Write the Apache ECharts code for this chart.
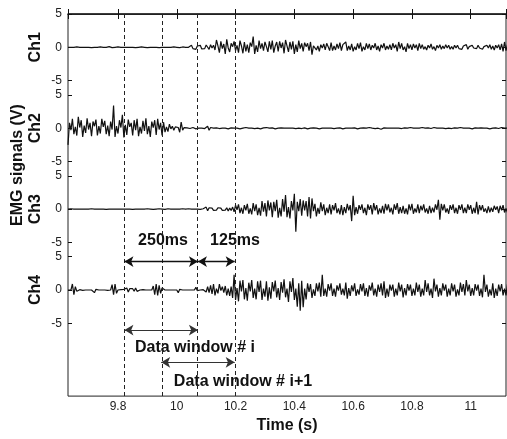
<!DOCTYPE html>
<html>
<head>
<meta charset="utf-8">
<script src="https://cdn.jsdelivr.net/npm/echarts@6/dist/echarts.min.js"></script>
<style>
html,body{margin:0;padding:0;background:#fff;}
#chart{width:507px;height:439px;}
</style>
</head>
<body>
<div id="chart"></div>
<script>
// ---- data ----
const sampleStart = 9.63;   // s
const sampleStep = 0.005;   // s
const channelNames = ['Ch1', 'Ch2', 'Ch3', 'Ch4'];
const xTicks = [9.8, 10, 10.2, 10.4, 10.6, 10.8, 11];
const yTicks = [-5, 0, 5];
const windowEdges = [9.822, 9.947, 10.072, 10.197];

const ch1 = [
 0,0.05,0,-0.05,0,0,0.05,0,0,-0.05,0,0,0,0.05,0,0,-0.05,0,0,0,
 0,0,0.05,0,0,-0.05,0,0,0.1,0,-0.05,0,0,0,0.05,0,0,-0.05,0,0,
 0,0,0,0.05,0,0,-0.05,0,0,0,0.05,0,0,0,-0.05,0,0,0.05,0,0,
 0,0,-0.05,0,0,0.05,0,0,0,-0.05,0,0,0.05,0,0,0,-0.05,0,0.05,0,
 0,0,0,0.1,0.3,-0.2,0.1,-0.3,0.2,0.1,0.3,-0.25,0.05,-0.2,0.35,0.1,-0.3,0.4,-0.1,0.3,
 -0.4,1.1,0.2,-0.8,0.9,-0.2,0.5,-1.0,1.2,-0.1,-0.7,0.6,0.1,0.9,-0.5,0.3,-0.8,1.0,0.2,-0.9,
 0.8,-0.6,0.4,-0.8,0.7,0.1,1.6,-1.0,0.3,-0.7,1.0,-0.2,0.6,-0.5,0.8,0.1,-0.7,0.9,-0.3,1.0,
 -0.8,0.2,0.8,-0.6,0.9,-0.1,0.7,-0.9,1.1,0.2,-0.7,0.8,-0.3,0.9,-1.0,0.4,-0.7,1.0,-0.2,0.6,
 -0.6,0.7,0.1,0.6,-0.5,0.8,-1.1,0.2,0.5,-0.4,0.2,-0.6,0.4,-0.1,0.5,-0.4,0.6,0.1,-0.5,0.7,
 -0.5,0.2,-0.4,0.5,-0.2,0.7,-0.5,0.4,0.1,0.8,-0.5,0.2,-0.4,0.5,-0.6,0.1,-0.4,0.6,-0.2,0.7,
 -0.6,0.1,-0.4,0.6,-0.2,0.5,-0.4,0.3,-0.1,0.6,-0.4,0.2,-0.6,0.4,-0.1,0.6,-0.4,0.2,-0.3,0.4,
 -0.4,0.6,-0.1,0.4,-0.6,0.8,-0.2,0.6,-0.4,0.1,-0.7,0.6,-0.2,0.4,-0.4,0.5,-0.1,0.4,-0.5,0.6,
 -0.2,0.4,-0.3,0.1,-0.4,0.3,-0.1,0.5,-0.3,0.1,-0.5,0.3,-0.1,0.4,-0.3,0.2,-0.2,0.4,-0.1,0.3,
 -0.3,0.1,-0.3,0.3,-0.1,0.3,-0.2,0.1,-0.3,0.2,-0.1,0.4,-0.3,0.1,-0.2,0.3,-0.1,0.2,-0.2,0.3,
 -0.1,0.2,-0.3,0.1,-0.2,0.3,-0.1,0.4,-0.3,0.2,-0.4,0.3,-0.1,0.4,-0.4,0.5,-0.6,0.8,-0.5,0.4
];

const ch2 = [
 -2.5,0.8,-0.3,1.4,-0.9,0.2,-1.1,1.7,0.1,1.2,-1.3,0.4,-0.7,1.5,-0.2,0.8,-1.2,1.0,0.3,1.3,
 -1.1,0.3,-0.8,1.4,0.2,1.1,-0.9,0.4,-1.2,1.0,-0.2,3.4,-1.3,0.3,-0.8,1.2,0.1,2.0,-1.4,0.5,
 -1.0,1.3,0.2,0.8,-1.1,1.2,-0.3,1.4,-1.2,0.2,-0.8,1.1,-0.4,1.5,-0.9,0.3,-1.3,1.0,0.1,1.2,
 -1.0,1.4,-0.2,0.8,-1.1,0.9,-0.6,0.2,-0.5,0.6,-0.1,0.3,-0.3,0.2,-0.1,0.1,-0.6,0.9,-0.3,0.1,
 0,0.05,0,-0.05,0,0.1,0,-0.1,0,0,0.05,0,0,-0.05,0,0.3,-0.3,0.1,0,0,
 0,0.05,0,-0.05,0,0,0.1,0,0,-0.1,0,0.05,0,0,-0.05,0,0.1,-0.1,0,0,
 0,0.1,-0.1,0,0.05,0,0,-0.05,0.1,0,0,-0.1,0,0.05,0,0.1,-0.05,0,0,0.05,
 0,-0.1,0.1,0,0,0.05,-0.05,0,0.1,0,-0.1,0,0.05,0,0,-0.05,0.1,0,0,-0.05,
 0,0.05,0,-0.1,0.1,0,0,0.05,-0.05,0,0.1,-0.1,0,0,0.05,0,-0.05,0,0.1,0,
 0,-0.05,0.1,0,0,0.05,0,-0.1,0,0,0.1,0,-0.05,0,0,0.05,0,-0.1,0.1,0,
 0,0.05,0,0,-0.1,0.1,0,0,0.05,-0.05,0,0,0.2,-0.15,0,0.05,0,0,-0.05,0,
 0.05,0,-0.1,0,0.1,0,0,-0.05,0,0.05,0,0,-0.1,0.1,0,0,0.05,0,-0.05,0,
 0,0.1,-0.1,0,0,0.05,0,-0.05,0,0.1,0,0,-0.1,0,0.05,0,0,-0.05,0.1,0,
 0,-0.05,0,0.05,0,0,-0.1,0.1,0,0,0.05,0,-0.05,0,0.1,-0.1,0,0.05,0,0,
 0,0.05,-0.05,0,0.1,0,0,-0.1,0.05,0,0,0.05,0,-0.05,0,0.1,-0.1,0,0.05,0
];

const ch3 = [
 0,0,0.05,0,0,-0.05,0,0,0,0.05,0,0,0,-0.05,0,0,0.05,0,0,0,
 0,0,0,0.05,0,0,-0.05,0,0,0.1,0,0,0,-0.05,0,0.05,0,0,0,0,
 0,0.05,0,0,-0.05,0,0,0.1,0,0,0,-0.05,0,0,0.05,0,0,0,-0.05,0,
 0,0,0.05,0,0,0,-0.05,0,0.05,0,0,0,0,0.05,0,-0.05,0,0,0.05,0,
 0,0,0.05,0,0,-0.05,0,0.1,0,0,-0.05,0,0.05,0,0.3,-0.25,0.2,-0.1,0.15,-0.2,
 0.1,-0.15,0.2,-0.1,0.15,-0.2,0.1,-0.15,0.2,-0.3,0.15,-0.2,0.3,-0.4,0.6,-0.1,0.7,-0.6,0.2,-0.7,
 0.6,-0.2,0.8,-0.7,0.1,-0.8,0.9,-0.3,0.7,-0.9,0.2,-1.0,1.2,-0.4,0.9,-1.1,1.3,-0.2,1.0,-1.2,
 1.1,-0.3,1.4,-1.3,0.2,-1.1,1.5,-0.4,2.1,-1.2,0.3,-1.4,1.2,-0.2,2.3,-3.4,1.1,-0.3,1.5,-1.0,
 1.3,-0.2,1.2,-1.1,1.8,-1.4,1.6,-0.3,0.8,-1.1,0.2,-0.7,1.0,-0.3,0.7,-0.9,0.2,-0.6,0.7,-0.8,
 0.6,-0.2,0.9,-0.6,0.1,-0.8,0.6,-0.9,0.3,-0.6,0.8,-0.2,0.6,-1.8,2.0,-0.9,0.3,-0.7,0.6,-0.1,
 0.7,-0.6,0.2,-0.9,0.7,-0.1,0.6,-0.8,0.9,-0.2,0.6,-0.8,0.1,-0.6,0.5,-0.7,0.8,-0.2,0.7,-0.5,
 0.2,-0.8,0.7,-0.1,0.9,-0.7,0.3,-0.6,0.5,-0.7,0.1,-0.8,0.7,-0.2,0.8,-0.7,0.1,-0.5,0.7,-0.6,
 0.5,-0.2,0.7,-0.5,0.1,-0.7,0.5,-0.6,0.2,-0.5,0.7,-0.1,1.4,-1.6,0.8,-0.2,0.7,-0.5,0.1,-0.7,
 0.6,-0.1,0.7,-0.6,0.2,-0.7,0.6,-0.1,0.7,-0.6,0.2,-0.6,0.7,-0.1,0.6,-0.7,0.2,-0.6,1.1,-0.8,
 0.6,-0.2,0.6,-0.4,0.1,-0.6,0.4,-0.5,0.2,-0.4,0.5,-0.1,0.4,-0.6,0.5,-0.2,0.6,-0.5,0.1,-0.5
];

const ch4 = [
 0,0.1,0,0.9,-0.7,0.5,-0.2,0,0.05,0,-0.05,0,0,0.05,0,0,0,0,-0.4,0.1,
 0,0,0.05,0,0,0,0,-0.05,0,0,0.8,-0.7,0.9,-0.5,0,0,0.05,0,0.1,-0.2,
 0.3,-0.3,0.2,0,0.2,-0.2,0.3,-0.2,0.1,0,0,0.05,0,0,0,0,0,0,0.6,-0.7,
 0.9,-0.8,0.7,-0.5,0.3,0,0,0,0,0.05,0,0,0,0,0,-0.4,0.1,0,0,0,
 0,0,0,0,0,0.05,0,0.4,-0.1,0,0,0,0.05,0,-0.3,0.5,-0.4,0.7,-0.6,0.9,
 -0.8,0.2,-0.5,0.9,-0.1,0.5,-0.4,0.6,-0.8,0.2,-0.9,0.5,-1.2,2.3,-1.5,0.3,-1.7,1.4,-0.2,1.5,
 -1.4,0.3,-1.6,1.1,-0.2,1.5,-1.2,0.2,-1.4,1.3,-0.3,1.4,-1.5,0.2,-1.0,1.3,-1.6,0.4,-1.3,1.2,
 -0.2,1.4,-1.1,0.3,-1.5,1.2,-0.4,1.6,-1.1,0.2,-1.8,1.3,-0.3,1.8,-1.5,0.2,-2.5,1.0,-3.1,1.4,
 -2.6,0.2,-1.4,1.0,-0.3,0.9,-1.2,0.1,-0.9,1.0,-0.2,1.1,-1.0,2.3,-0.9,0.2,-1.0,0.9,-0.1,1.0,
 -0.9,0.2,-1.0,0.7,-0.1,1.0,-0.7,0.2,-0.8,1.1,-1.3,0.3,-0.9,0.7,-0.2,1.0,-0.9,0.1,-0.7,0.9,
 -0.2,1.0,-0.9,0.3,-1.0,0.7,-0.1,1.1,-0.8,0.2,-1.0,0.8,-0.3,1.0,-0.8,1.3,-1.2,0.2,-1.0,0.8,
 -0.1,0.8,-1.0,0.2,-0.8,1.1,-0.2,0.8,-1.1,0.3,-0.8,0.9,-0.1,0.8,-0.9,0.2,-0.8,1.1,-0.3,0.8,
 -1.0,0.2,-0.8,1.5,-0.3,1.0,-0.8,0.2,-1.2,1.7,-0.2,0.8,-1.0,0.3,-0.8,1.0,-0.1,0.8,-1.0,0.2,
 -0.8,1.0,-0.2,0.8,-1.0,0.1,-0.8,1.1,-0.3,0.9,-0.8,1.5,-0.2,0.8,-0.9,0.3,-0.8,0.9,-0.1,0.8,
 -0.9,0.2,-1.1,2.3,-0.3,0.8,-1.0,0.1,-0.8,1.0,-1.2,0.2,-0.9,0.8,-0.2,0.9,-0.8,0.2,-0.8,0.9
];

const channels = [ch1, ch2, ch3, ch4];

// ---- layout ----
const X_MIN = 9.63, X_MAX = 11.12;
const LEFT = 68, WIDTH = 438;
const FRAME_TOP = 14, FRAME_H = 385;
const CH_TOP = 14, CH_STEP = 80.9, CH_H = 66.6;
const FONT = '"Liberation Sans", Arial, Helvetica, sans-serif';
const INK = '#111';

const times = ch1.map((_, k) => +(sampleStart + k * sampleStep).toFixed(3));

const grids = [];
const xAxes = [];
const yAxes = [];
const series = [];

channels.forEach((vals, i) => {
  grids.push({ left: LEFT, width: WIDTH, top: CH_TOP + CH_STEP * i, height: CH_H, containLabel: false });
  xAxes.push({ type: 'value', gridIndex: i, min: X_MIN, max: X_MAX, show: false });
  yAxes.push({
    type: 'value', gridIndex: i, min: -5, max: 5, interval: 5, position: 'left',
    axisLine: { show: false },
    axisTick: { show: true, inside: true, length: 4, lineStyle: { color: INK } },
    axisLabel: { show: true, margin: 6, color: '#222', fontSize: 12, fontFamily: FONT },
    splitLine: { show: false }
  });
  series.push({
    type: 'line', xAxisIndex: i, yAxisIndex: i,
    data: times.map((t, k) => [t, vals[k]]),
    showSymbol: false, symbol: 'none', clip: true,
    lineStyle: { color: INK, width: 1.2 },
    animation: false, silent: true
  });
});
channels.forEach((vals, i) => {
  yAxes.push({
    type: 'value', gridIndex: i, min: -5, max: 5, interval: 5, position: 'right',
    axisLine: { show: false },
    axisTick: { show: true, inside: true, length: 4, lineStyle: { color: INK } },
    axisLabel: { show: false },
    splitLine: { show: false }
  });
});

// frame grid (index 4)
grids.push({ left: LEFT, width: WIDTH, top: FRAME_TOP, height: FRAME_H, show: true,
  borderColor: '#222', borderWidth: 1, backgroundColor: 'transparent' });
xAxes.push({
  type: 'value', gridIndex: 4, min: X_MIN, max: X_MAX, position: 'bottom',
  splitNumber: 7,
  axisLine: { show: true, lineStyle: { color: '#222', width: 1 } },
  axisTick: { show: true, inside: true, length: 5, lineStyle: { color: INK, width: 1 } },
  axisLabel: { show: true, customValues: xTicks, margin: 5, color: '#222', fontSize: 12, fontFamily: FONT },
  splitLine: { show: false },
  name: 'Time (s)', nameLocation: 'middle', nameGap: 18,
  nameTextStyle: { fontWeight: 'bold', fontSize: 16, color: INK, fontFamily: FONT }
});
xAxes.push({
  type: 'value', gridIndex: 4, min: X_MIN, max: X_MAX, position: 'top',
  splitNumber: 7,
  axisLine: { show: true, lineStyle: { color: '#222', width: 1.5 } },
  axisTick: { show: true, inside: true, length: 5, lineStyle: { color: INK, width: 1 } },
  axisLabel: { show: false },
  splitLine: { show: false }
});
yAxes.push({ type: 'value', gridIndex: 4, min: 0, max: FRAME_H, inverse: true, show: false });

// vertical dashed window boundaries
series.push({
  type: 'line', xAxisIndex: 4, yAxisIndex: 8, data: [], silent: true, animation: false,
  markLine: {
    silent: true, animation: false, symbol: 'none',
    label: { show: false },
    lineStyle: { color: '#222', width: 1, type: [4, 3] },
    data: windowEdges.map(t => ({ xAxis: t }))
  }
});

// double-headed arrows
const yA = 249.5, yB = 318.5, yC = 351;
series.push({
  type: 'line', xAxisIndex: 4, yAxisIndex: 8, data: [], silent: true, animation: false,
  markLine: {
    silent: true, animation: false, symbol: ['arrow', 'arrow'], symbolSize: [8, 9],
    label: { show: false },
    lineStyle: { color: INK, width: 1.4, type: 'solid' },
    data: [
      [{ coord: [windowEdges[0], yA] }, { coord: [windowEdges[2], yA] }],
      [{ coord: [windowEdges[2], yA] }, { coord: [windowEdges[3], yA] }],
      [{ coord: [windowEdges[0], yB], lineStyle: { width: 1, color: '#333' } }, { coord: [windowEdges[2], yB] }],
      [{ coord: [windowEdges[1], yC], lineStyle: { width: 1, color: '#333' } }, { coord: [windowEdges[3], yC] }]
    ]
  }
});

const boldText = (text, x, y, rot) => ({
  type: 'text', x: x, y: y, rotation: rot || 0, silent: true,
  style: { text: text, fill: INK, font: 'bold 16px ' + FONT, textAlign: 'center', textVerticalAlign: 'middle' }
});

const graphics = [
  boldText('EMG signals (V)', 18, 165, Math.PI / 2),
  boldText('250ms', 163, 241),
  boldText('125ms', 235, 241),
  boldText('Data window # i', 195, 348),
  boldText('Data window # i+1', 243, 382)
];
channelNames.forEach((n, i) => {
  graphics.push(boldText(n, 36, CH_TOP + CH_STEP * i + CH_H / 2, Math.PI / 2));
});

const chart = echarts.init(document.getElementById('chart'), null, { renderer: 'canvas' });
chart.setOption({
  animation: false,
  backgroundColor: '#fff',
  grid: grids,
  xAxis: xAxes,
  yAxis: yAxes,
  series: series,
  graphic: graphics
});
</script>
</body>
</html>
